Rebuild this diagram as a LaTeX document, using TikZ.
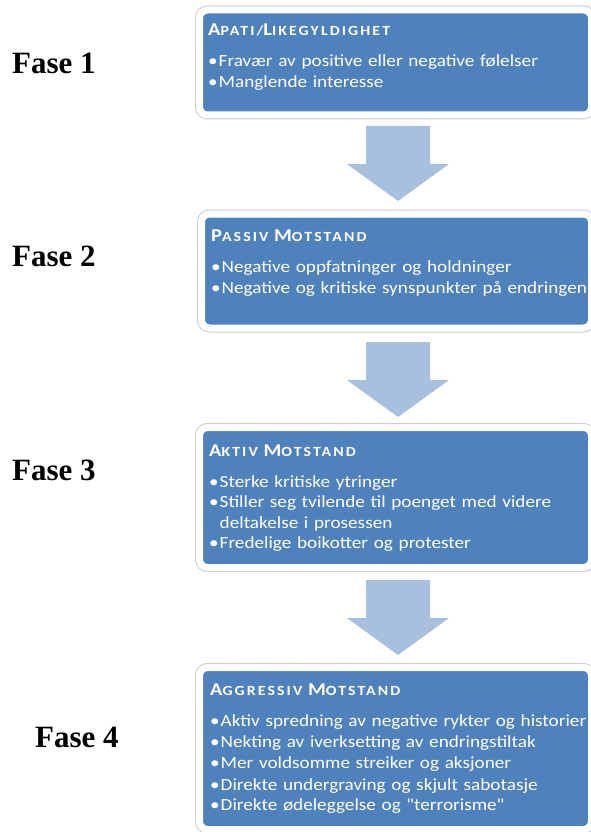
\documentclass[tikz,border=0pt]{standalone}
\usepackage{fontspec}
\setmainfont{Carlito}
\newfontfamily\boxfont{Carlito}[FakeStretch=1.13]
\newfontfamily\hdfont{Carlito}[FakeStretch=1.13, LetterSpace=15]
\newfontfamily\fasefont{Liberation Serif}
\usetikzlibrary{shadows}

\definecolor{boxblue}{RGB}{79,129,189}
\definecolor{arrowblue}{RGB}{168,192,222}
\definecolor{framegray}{RGB}{205,205,205}

\hyphenpenalty=10000
% small caps heading: big first letter, smaller capitals
\newcommand{\hd}[2]{{\fontsize{18}{20}\selectfont #1}{\fontsize{14}{20}\selectfont #2}}
% bullet line with hanging indent
\newcommand{\bl}[1]{\par\hangindent=10.5pt\hangafter=1\noindent\makebox[10.5pt][l]{\textbullet}#1}

\tikzset{
  fasebox/.style={fill=boxblue, draw=white, line width=7pt, rounded corners=8pt,
    preaction={draw=framegray, line width=9pt},
    drop shadow={opacity=0.25, shadow xshift=2pt, shadow yshift=-3pt}},
  boxtext/.style={anchor=north west, inner sep=0pt, text=white, text width=392pt,
    align=left, font=\boxfont\fontsize{17}{20.5}\selectfont},
  faselabel/.style={anchor=base west, inner sep=0pt, font=\fasefont\bfseries\fontsize{31}{36}\selectfont}
}

\begin{document}
\begin{tikzpicture}[x=1pt,y=-1pt]
  \useasboundingbox (0,0) rectangle (590,832);

  % boksene
  \node[fasebox, minimum width=392pt, minimum height=105pt] (b1) at (395.5,62.5) {};
  \node[fasebox, minimum width=390pt, minimum height=114pt] (b2) at (396.5,271) {};
  \node[fasebox, minimum width=392pt, minimum height=140pt] (b3) at (395.5,497.5) {};
  \node[fasebox, minimum width=392pt, minimum height=162pt] (b4) at (395.5,748.5) {};

  % tekst i boksene
  \node[boxtext] (t1) at ([shift={(12pt,-17pt)}]b1.north west) {%
    {\hdfont\bfseries\hd{A}{PATI/}\hd{L}{IKEGYLDIGHET}}\par\vspace{11pt}
    \bl{Fravær av positive eller negative følelser}
    \bl{Manglende interesse}};
  \node[boxtext] (t2) at ([shift={(13pt,-19pt)}]b2.north west) {%
    {\hdfont\bfseries\hd{P}{ASSIV} \hd{M}{OTSTAND}}\par\vspace{11pt}
    \bl{Negative oppfatninger og holdninger}
    \bl{Negative og kritiske synspunkter på endringen}};
  \node[boxtext] (t3) at ([shift={(13pt,-21pt)}]b3.north west) {%
    {\hdfont\bfseries\hd{A}{KTIV} \hd{M}{OTSTAND}}\par\vspace{10pt}
    \bl{Sterke kritiske ytringer}
    \bl{Stiller seg tvilende til poenget med videre\newline deltakelse i prosessen}
    \bl{Fredelige boikotter og protester}};
  \node[boxtext] (t4) at ([shift={(14pt,-20pt)}]b4.north west) {%
    {\hdfont\bfseries\hd{A}{GGRESSIV} \hd{M}{OTSTAND}}\par\vspace{9pt}
    \fontsize{17}{21.3}\selectfont
    \bl{Aktiv spredning av negative rykter og historier}
    \bl{Nekting av iverksetting av endringstiltak}
    \bl{Mer voldsomme streiker og aksjoner}
    \bl{Direkte undergraving og skjult sabotasje}
    \bl{Direkte ødeleggelse og \symbol{34}terrorisme\symbol{34}}};

  % pilene mellom fasene
  \foreach \t in {126,342,580}
    \fill[arrowblue] (366,\t) -- (430,\t) -- (430,\t+38) -- (449,\t+38)
      -- (398,\t+75) -- (347,\t+38) -- (366,\t+38) -- cycle;

  % fase-etiketter
  \node[faselabel] (f1) at (12,74) {Fase 1};
  \node[faselabel] (f2) at (12,266) {Fase 2};
  \node[faselabel] (f3) at (12,480) {Fase 3};
  \node[faselabel] (f4) at (35,747) {Fase 4};
\end{tikzpicture}
\end{document}
